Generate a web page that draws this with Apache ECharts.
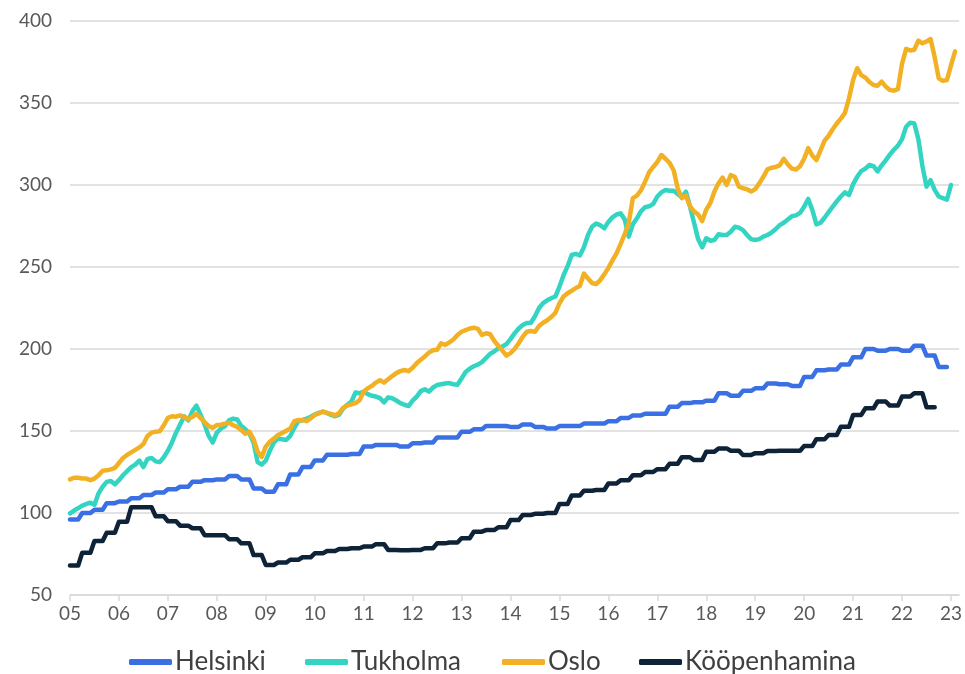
<!DOCTYPE html>
<html lang="fi">
<head>
<meta charset="UTF-8">
<title>Asuntohinnat</title>
<script src="https://cdn.jsdelivr.net/npm/echarts@6/dist/echarts.min.js"></script>
<style>
  body { margin: 0; background: #fff; }
  #main { width: 965px; height: 674px; }
</style>
</head>
<body>
<div id="main"></div>
<script>
// year tick labels, one per January
const years = ['05','06','07','08','09','10','11','12','13','14','15','16','17','18','19','20','21','22','23'];
const seriesNames = ['Helsinki', 'Tukholma', 'Oslo', 'Kööpenhamina'];

// monthly values, one row per year (Jan..Dec)
const helsinki = [
  96,96,96, 100,100,100, 102,102,102, 106,106,106,
  107,107,107, 109,109,109, 111,111,111, 112.5,112.5,112.5,
  114.5,114.5,114.5, 116,116,116, 119,119,119, 120,120,120,
  120.5,120.5,120.5, 122.5,122.5,122.5, 120.5,120.5,120.5, 115,115,115,
  113,113,113, 117.5,117.5,117.5, 123.5,123.5,123.5, 128,128,128,
  132,132,132, 135.5,135.5,135.5, 135.5,135.5,135.5, 136,136,136,
  140.5,140.5,140.5, 141.5,141.5,141.5, 141.5,141.5,141.5, 140.5,140.5,140.5,
  142.5,142.5,142.5, 143,143,143, 146,146,146, 146,146,146,
  149.5,149.5,149.5, 151,151,151, 153,153,153, 153,153,153,
  152.5,152.5,152.5, 154,154,154, 152.5,152.5,152.5, 151.5,151.5,151.5,
  153,153,153, 153,153,153, 154.5,154.5,154.5, 154.5,154.5,154.5,
  156,156,156, 158,158,158, 159.5,159.5,159.5, 160.5,160.5,160.5,
  160.5,160.5,160.5, 164.8,164.8,164.8, 167,167,167, 167.5,167.5,167.5,
  168.5,168.5,168.5, 173,173,173, 171.5,171.5,171.5, 174.5,174.5,174.5,
  176,176,176, 179,179,179, 178.5,178.5,178.5, 177.5,177.5,177.5,
  183,183,183, 187,187,187, 187.5,187.5,187.5, 190.5,190.5,190.5,
  195,195,195, 200,200,200, 199,199,199, 200,200,200,
  199,199,199, 202,202,202, 196,196,196, 189,189,189
];

const tukholma = [
  99.8,101.5,103,104.5,105.5,106.3,105,112,116,119,119.5,117.5,
  120,123,125.5,128,129.5,132,128,133,133.5,131.5,131,134,
  138,143,149,154,159,156.5,162,165.5,160,154,147,143,
  149,151.5,153,156.5,157.5,157,153,151,148.5,143,131,129.5,
  132,138,143,145.5,145,144.5,147,152,156,156.7,157.5,158.7,
  160,161,161.8,161,159.8,159,160,163.8,166,168,173.5,173,
  174,172.5,171.5,171,170,167.5,170.5,170,168.6,167,166,165.2,
  168.5,171,174.3,175.5,174,176.5,178,178.5,179,179.2,178.5,178.2,
  182,186,188,189.5,190.5,192,194.5,197,198.5,200.5,201.5,203,
  206,209.5,212.5,214.6,215.8,216,220,225,228,229.7,231,232,
  238,245,250.5,257.3,258,257,262,269.5,274.5,276.5,275.5,273.6,
  277.5,280.3,282,282.7,279,268.5,276,279.7,284,286.5,287,288.5,
  293,295.5,297,296.5,296.5,294.5,292.5,295.9,287,277,267,262,
  267.5,266,266.5,270,269.5,269.5,271.5,274.5,274,272.5,269.5,267,
  266.5,267,268.5,269.5,271,273,275.5,277,279,281,281.5,283,
  286.8,291.5,284.8,276,277,280,283.5,286.8,290,293,295.5,293.9,
  300.5,305,308.5,310,312.2,311.5,308.3,312,315,318.5,321.5,324,
  328,335.5,338,337.5,328,311.5,299,303,297,293,292,291,
  300
];

const oslo = [
  120.5,121.5,121.5,121,121,120,121,123,125.8,126,126.6,127.5,
  130.5,133.5,135.4,137,138.5,140,142,147,149,149.6,149.8,153.5,
  158,159,158.7,159.5,158.5,157.3,158.5,160.5,158,155.5,153,151.8,
  153.6,153.8,154.5,155,153.5,152.5,150.5,148.3,149.5,145,137.5,134.2,
  140.5,143.5,145.5,147.5,148.8,150.2,151.5,156,156.7,156.6,156,157.7,
  159.8,160.7,161.8,161,160.4,159.5,161,164.2,165.5,166.2,167,168.8,
  174,176,177.5,179.5,181,179.5,181.5,183.5,185.3,186.5,187.2,186.5,
  188.5,191.3,193.5,195.5,197.8,199.2,199.5,203.5,202.5,204,205.8,208.5,
  210.5,211.5,212.5,213,212.3,208.5,209.6,209,205,202,199,196,
  197.5,200,203.5,207.5,210.5,211,210.5,214,216,217.5,219.5,222,
  227.8,232,234,235.5,237.2,238.4,246,243,240.2,239.6,242,245.5,
  249.5,254,258.3,264,270,277,292,293.5,296.8,302,307.8,311,
  314,318.3,316,313.5,309,298,292,293.5,287,284,282,278,
  285,289,296,301,304.5,300,306,305,299,298,297.4,296,
  297.5,301,305,309.5,310.5,311,312,316,312.5,310,309.5,311.5,
  316,322.5,318,315.2,321,327,330,334,337.5,340.5,344,352.9,
  364,371.2,367,365.5,362.8,361,360.5,363,360,358,357.5,358.5,
  374,383,382,382.5,388,386.4,387.5,389,378,365,363.5,364,
  373,381.5
];

const kooppenhamina = [
  68,68,68, 75.8,75.8,75.8, 83,83,83, 88,88,88,
  94.7,94.7,94.7, 103.5,103.5,103.5, 103.5,103.5,103.5, 98,98,98,
  95,95,95, 92.3,92.3,92.3, 90.7,90.7,90.7, 86.5,86.5,86.5,
  86.5,86.5,86.5, 84,84,84, 81.5,81.5,81.5, 74.4,74.4,74.4,
  68.3,68.3,68.3, 69.8,69.8,69.8, 71.5,71.5,71.5, 73,73,73,
  75.4,75.4,75.4, 76.8,76.8,76.8, 78,78,78, 78.5,78.5,78.5,
  79.5,79.5,79.5, 81,81,81, 77.5,77.5,77.5, 77.3,77.3,77.3,
  77.5,77.5,77.5, 78.5,78.5,78.5, 81.5,81.5,81.5, 82,82,82,
  84.6,84.6,84.6, 88.6,88.6,88.6, 89.6,89.6,89.6, 91.3,91.3,91.3,
  95.7,95.7,95.7, 98.8,98.8,98.8, 99.5,99.5,99.5, 100,100,100,
  105.5,105.5,105.5, 110.7,110.7,110.7, 113.6,113.6,113.6, 114,114,114,
  118,118,118, 120,120,120, 123,123,123, 125,125,125,
  126.7,126.7,126.7, 130,130,130, 134,134,134, 132.3,132.3,132.3,
  137.4,137.4,137.4, 139.4,139.4,139.4, 138,138,138, 135.4,135.4,135.4,
  136.5,136.5,136.5, 137.8,137.8,137.8, 138,138,138, 138,138,138,
  140.8,140.8,140.8, 145,145,145, 147.6,147.6,147.6, 152.6,152.6,152.6,
  159.8,159.8,159.8, 163.8,163.8,163.8, 168,168,168, 165.5,165.5,165.5,
  171,171,171, 173,173,173, 164.5,164.5,164.5
];

const colors = ['#3a70e3', '#33d4c2', '#f2b124', '#0e2238'];
const legendLeft = [124, 300, 497, 634];

// month categories Jan 2005 .. Mar 2023
const months = [];
years.forEach(function (y, i) {
  const last = (i === years.length - 1) ? 3 : 12;
  for (let m = 1; m <= last; m++) months.push(y + '-' + (m < 10 ? '0' + m : m));
});

const chart = echarts.init(document.getElementById('main'));

function makeSeries(name, data, color) {
  return {
    name: name,
    type: 'line',
    data: data,
    showSymbol: false,
    symbol: 'none',
    lineStyle: { width: 4.5, color: color, cap: 'round', join: 'round' },
    itemStyle: { color: color },
    animation: false
  };
}

// one legend per item so each sits where it does in the original
const legends = seriesNames.map(function (n, i) {
  return {
    left: legendLeft[i],
    top: 644,
    icon: 'roundRect',
    itemWidth: 43,
    itemHeight: 6,
    textStyle: { fontFamily: 'Lato', fontSize: 26, color: '#404040', padding: [0, 0, 0, -2] },
    data: [n]
  };
});

chart.setOption({
  animation: false,
  color: colors,
  grid: { left: 70, right: 5, top: 21, bottom: 79, containLabel: false },
  legend: legends,
  xAxis: {
    type: 'category',
    boundaryGap: false,
    data: months,
    axisLine: { lineStyle: { color: '#d9d9d9', width: 1.5 } },
    axisTick: { show: true, interval: 11, length: 6, lineStyle: { color: '#d9d9d9', width: 1.5 } },
    axisLabel: {
      interval: 11,
      margin: 9,
      fontFamily: 'Lato',
      fontSize: 19,
      color: '#595959',
      formatter: function (v) { return v.slice(0, 2); }
    },
    splitLine: { show: false }
  },
  yAxis: {
    type: 'value',
    min: 50,
    max: 400,
    interval: 50,
    axisLine: { show: false },
    axisTick: { show: false },
    axisLabel: { margin: 18, fontFamily: 'Lato', fontSize: 19, color: '#595959' },
    splitLine: { lineStyle: { color: '#d9d9d9', width: 1.5 } }
  },
  series: [
    makeSeries(seriesNames[0], helsinki, colors[0]),
    makeSeries(seriesNames[1], tukholma, colors[1]),
    makeSeries(seriesNames[2], oslo, colors[2]),
    makeSeries(seriesNames[3], kooppenhamina, colors[3])
  ]
});
</script>
</body>
</html>
